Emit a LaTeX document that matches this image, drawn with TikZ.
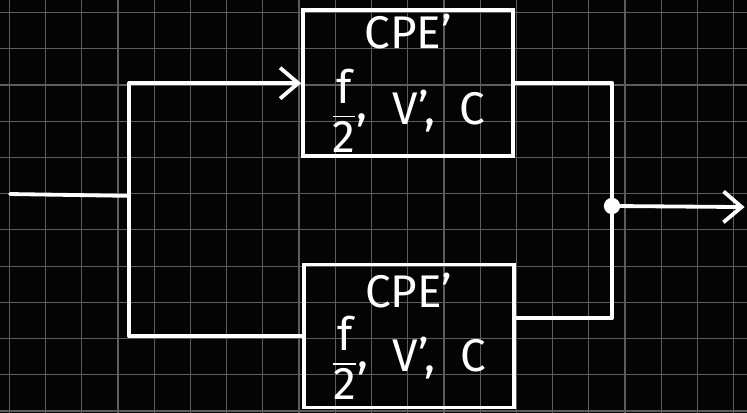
\documentclass[tikz,border=0pt]{standalone}
\usepackage{amsmath}
\usepackage{fontspec}
\setmainfont{Fira Sans}
\usetikzlibrary{arrows.meta,positioning,calc}
\definecolor{racs}{HTML}{5C5C5C}
\definecolor{hatter}{HTML}{040404}
\tikzset{
  wire/.style={draw=white,line width=3pt,line cap=round,line join=round},
  blk/.style={draw=white,line width=3pt,minimum width=5.8cm,minimum height=3.95cm,
    align=center,text=white,font=\fontsize{36}{42}\selectfont},
  arr/.style={-{Straight Barb[length=5mm,width=8.5mm]}},
  dot/.style={circle,fill=white,inner sep=0pt,minimum size=4.5mm},
}

\begin{document}
\begin{tikzpicture}
  \useasboundingbox[fill=hatter] (-0.257,-0.055) rectangle (20.367,11.347);
  \draw[racs,line width=0.9pt] (-0.257,-0.055) grid (20.367,11.347);
  \node[blk] (top) at (11.01,9.05) {CPE'\\[5mm] $\dfrac{\text{f}}{\text{2}}$\raisebox{0.2ex}{,}\ \ V',\ \ C};
  \node[blk] (bot) at (11.03,2.07) {CPE'\\[2mm] $\dfrac{\text{f}}{\text{2}}$\raisebox{0.2ex}{,}\ \ V',\ \ C};
  \coordinate (in) at (0.02,5.99);
  \coordinate (jl) at (3.3,5.94);
  \node[dot] (jr) at (16.64,5.66) {};
  \coordinate (out) at (20.3,5.63);
  \draw[wire] (in) -- (jl);
  \draw[wire,arr] (jl) |- (top.west);
  \draw[wire] (jl) |- (bot.west);
  \draw[wire] (top.east) -| (jr);
  \draw[wire] ([yshift=5mm]bot.east) -| (jr);
  \draw[wire,arr] (jr) -- (out);
\end{tikzpicture}
\end{document}
